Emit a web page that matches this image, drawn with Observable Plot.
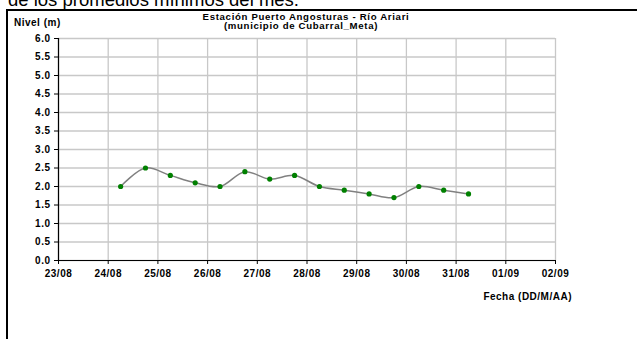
<!DOCTYPE html>
<html>
<head>
<meta charset="utf-8">
<script src="https://cdn.jsdelivr.net/npm/d3@7"></script>
<script src="https://cdn.jsdelivr.net/npm/@observablehq/plot@0.6"></script>
<style>
  html, body { margin: 0; padding: 0; background: #fff; }
  #wrap { position: relative; width: 637px; height: 339px; overflow: hidden; font-family: "Liberation Sans", Arial, sans-serif; }
  #wrap svg { position: absolute; left: 0; top: 0; }
  .t { position: absolute; white-space: nowrap; font-weight: bold; font-size: 10px; letter-spacing: 0.5px; color: #000; line-height: 10px; }
  .tt { font-size: 8.6px; line-height: 8.6px; letter-spacing: 0.6px; }
  #doc { position: absolute; left: 8px; top: -10px; font-size: 18.5px; line-height: 19px; white-space: nowrap; color: #000; }
  #frame { position: absolute; left: 6px; top: 9px; width: 640px; height: 340px; border-left: 2px solid #000; border-top: 2px solid #000; }
</style>
</head>
<body>
<div id="wrap">
  <div id="doc">de los promedios mínimos del mes.</div>
  <div id="frame"></div>
</div>
<script>
// ---- data ----
const fechas = [
  "2013-08-24T06:00Z","2013-08-24T18:00Z","2013-08-25T06:00Z","2013-08-25T18:00Z",
  "2013-08-26T06:00Z","2013-08-26T18:00Z","2013-08-27T06:00Z","2013-08-27T18:00Z",
  "2013-08-28T06:00Z","2013-08-28T18:00Z","2013-08-29T06:00Z","2013-08-29T18:00Z",
  "2013-08-30T06:00Z","2013-08-30T18:00Z","2013-08-31T06:00Z"
];
const nivel = [2.0, 2.5, 2.3, 2.1, 2.0, 2.4, 2.2, 2.3, 2.0, 1.9, 1.8, 1.7, 2.0, 1.9, 1.8];
const xTicks = ["2013-08-23","2013-08-24","2013-08-25","2013-08-26","2013-08-27","2013-08-28",
                "2013-08-29","2013-08-30","2013-08-31","2013-09-01","2013-09-02"];
const yTicks = [0, 0.5, 1, 1.5, 2, 2.5, 3, 3.5, 4, 4.5, 5, 5.5, 6];
const titulo1 = "Estación Puerto Angosturas - Río Ariari";
const titulo2 = "(municipio de Cubarral_Meta)";
const yLabel = "Nivel (m)";
const xLabel = "Fecha (DD/M/AA)";

const data = fechas.map((f, i) => ({fecha: new Date(f), nivel: nivel[i]}));
const xt = xTicks.map(d => new Date(d + "T00:00Z"));
const fmt = d3.utcFormat("%d/%m");

const chart = Plot.plot({
  width: 637,
  height: 339,
  marginLeft: 58,
  marginRight: 82,
  marginTop: 38,
  marginBottom: 79,
  style: {fontFamily: "'Liberation Sans', Arial, sans-serif", fontSize: "10px", fontWeight: "bold", color: "#000", background: "transparent", letterSpacing: "0.5px"},
  x: {type: "utc", domain: [xt[0], xt[xt.length - 1]]},
  y: {domain: [0, 6]},
  marks: [
    Plot.gridX(xt, {stroke: "#c8c8c8", strokeOpacity: 1, strokeWidth: 1.3}),
    Plot.gridY(yTicks, {stroke: "#c8c8c8", strokeOpacity: 1, strokeWidth: 1.3}),
    Plot.axisX(xt, {tickFormat: fmt, tickSize: 4, tickPadding: 5, label: null, stroke: "#000", fill: "#000"}),
    Plot.axisY(yTicks, {tickFormat: d => d.toFixed(1), tickSize: 4, tickPadding: 4, label: null, stroke: "#000", fill: "#000"}),
    Plot.ruleY([0], {stroke: "#000", strokeWidth: 1.2}),
    Plot.ruleX([xt[0]], {stroke: "#000", strokeWidth: 1.2}),
    Plot.line(data, {x: "fecha", y: "nivel", curve: "catmull-rom", stroke: "#808080", strokeWidth: 1.5}),
    Plot.dot(data, {x: "fecha", y: "nivel", r: 2.6, fill: "#008000", stroke: "none"})
  ]
});
const wrap = document.getElementById("wrap");
wrap.appendChild(chart);

function addText(txt, left, top, align, cls) {
  const el = document.createElement("div");
  el.className = "t" + (cls ? " " + cls : "");
  el.textContent = txt;
  el.style.top = top + "px";
  if (align === "center") { el.style.left = left + "px"; el.style.transform = "translateX(-50%) scaleX(1.12)"; }
  else if (align === "right") { el.style.right = (637 - left) + "px"; }
  else { el.style.left = left + "px"; }
  wrap.appendChild(el);
}
addText(yLabel, 14, 18, "left");
addText(titulo1, 306, 13, "center", "tt");
addText(titulo2, 301, 21.6, "center", "tt");
addText(xLabel, 572, 292, "right");
</script>
</body>
</html>
